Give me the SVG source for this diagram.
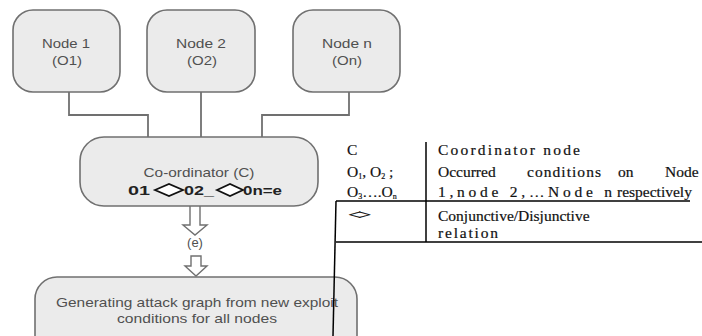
<svg xmlns="http://www.w3.org/2000/svg" width="702" height="336" viewBox="0 0 702 336">
<style>
.box{fill:#ebebeb;stroke:#707070;stroke-width:1.6}
.nt{font-family:"Liberation Sans",Arial,sans-serif;font-size:13px;fill:#505050;text-anchor:middle}
.bt{font-family:"Liberation Sans",Arial,sans-serif;font-size:13px;font-weight:bold;fill:#222}
.conn{fill:none;stroke:#707070;stroke-width:1.8}
.arr{fill:#fff;stroke:#707070;stroke-width:1.4}
.dia{fill:#fff;stroke:#111;stroke-width:1.8}
.tt{font-family:"Liberation Serif","Times New Roman",serif;font-size:15.5px;fill:#111;stroke:#111;stroke-width:0.2}
.tl{fill:none;stroke:#000;stroke-width:1.5}
</style>
<rect width="702" height="336" fill="#fff"/>
<g id="connectors">
<polyline class="conn" points="69,92 69,115 148,115 148,138"/>
<line class="conn" x1="201" y1="92" x2="201" y2="138"/>
<polyline class="conn" points="349,92 349,115 262,115 262,137"/>
<polygon class="arr" points="190,205 200,205 200,225 207,225 195,235 183,225 190,225"/>
<polygon class="arr" points="191,256 201,256 201,266 207,266 196,276 185,266 191,266"/>
</g>
<g id="node1">
<rect class="box" x="13" y="10" width="107" height="82" rx="20"/>
<text class="nt" x="66" y="48" textLength="48" lengthAdjust="spacingAndGlyphs">Node 1</text>
<text class="nt" x="67" y="65" textLength="30" lengthAdjust="spacingAndGlyphs">(O1)</text>
</g>
<g id="node2">
<rect class="box" x="147" y="10" width="108" height="82" rx="20"/>
<text class="nt" x="201" y="48" textLength="50" lengthAdjust="spacingAndGlyphs">Node 2</text>
<text class="nt" x="202" y="65" textLength="30" lengthAdjust="spacingAndGlyphs">(O2)</text>
</g>
<g id="noden">
<rect class="box" x="293" y="10" width="107" height="82" rx="20"/>
<text class="nt" x="347" y="48" textLength="50" lengthAdjust="spacingAndGlyphs">Node n</text>
<text class="nt" x="347" y="65" textLength="30" lengthAdjust="spacingAndGlyphs">(On)</text>
</g>
<g id="coordinator">
<rect class="box" x="80" y="137" width="238" height="69" rx="24"/>
<text class="nt" x="199" y="177" textLength="111" lengthAdjust="spacingAndGlyphs">Co-ordinator (C)</text>
<text class="bt" x="128" y="195" textLength="22" lengthAdjust="spacingAndGlyphs">01</text>
<polygon class="dia" points="155,190 169,184 183,190 169,196"/>
<text class="bt" x="184" y="195" textLength="30" lengthAdjust="spacingAndGlyphs">02_</text>
<polygon class="dia" points="217,190 230,184 243,190 230,196"/>
<text class="bt" x="243" y="195" textLength="39" lengthAdjust="spacingAndGlyphs">0n=e</text>
</g>
<g id="e-label">
<text class="nt" x="195" y="247" font-size="12">(e)</text>
</g>
<g id="generate">
<rect class="box" x="35" y="277" width="322" height="80" rx="22"/>
<text class="nt" x="197" y="307" textLength="282" lengthAdjust="spacingAndGlyphs">Generating attack graph from new exploit</text>
<text class="nt" x="197" y="323" textLength="160" lengthAdjust="spacingAndGlyphs">conditions for all nodes</text>
</g>
<g id="legend">
<line class="tl" x1="426" y1="142" x2="426" y2="242"/>
<line class="tl" x1="336" y1="201" x2="690" y2="201"/>
<line class="tl" x1="336" y1="242" x2="702" y2="242"/>
<line class="tl" x1="336" y1="201" x2="333" y2="336"/>
<text class="tt" x="347" y="155">C</text>
<text class="tt" x="438" y="155" textLength="142" lengthAdjust="spacing">Coordinator node</text>
<text class="tt" x="347" y="177">O<tspan font-size="8" dy="2">1</tspan><tspan dy="-2">, O</tspan><tspan font-size="8" dy="2">2</tspan><tspan dy="-2"> ;</tspan></text>
<text class="tt" x="438" y="177">Occurred</text>
<text class="tt" x="527" y="177" textLength="74" lengthAdjust="spacing">conditions</text>
<text class="tt" x="618" y="177">on</text>
<text class="tt" x="665" y="177">Node</text>
<text class="tt" x="347" y="197">O<tspan font-size="8" dy="2">3</tspan><tspan dy="-2">….O</tspan><tspan font-size="8" dy="2">n</tspan></text>
<text class="tt" x="438" y="197" textLength="174" lengthAdjust="spacing">1,node 2,…Node n</text>
<text class="tt" x="617" y="197">respectively</text>
<text class="tt" transform="translate(348,219) scale(1.5,0.75)" font-weight="bold" letter-spacing="-2">&lt;&gt;</text>
<text class="tt" x="438" y="221">Conjunctive/Disjunctive</text>
<text class="tt" x="438" y="238" textLength="60" lengthAdjust="spacing">relation</text>
</g>
</svg>
